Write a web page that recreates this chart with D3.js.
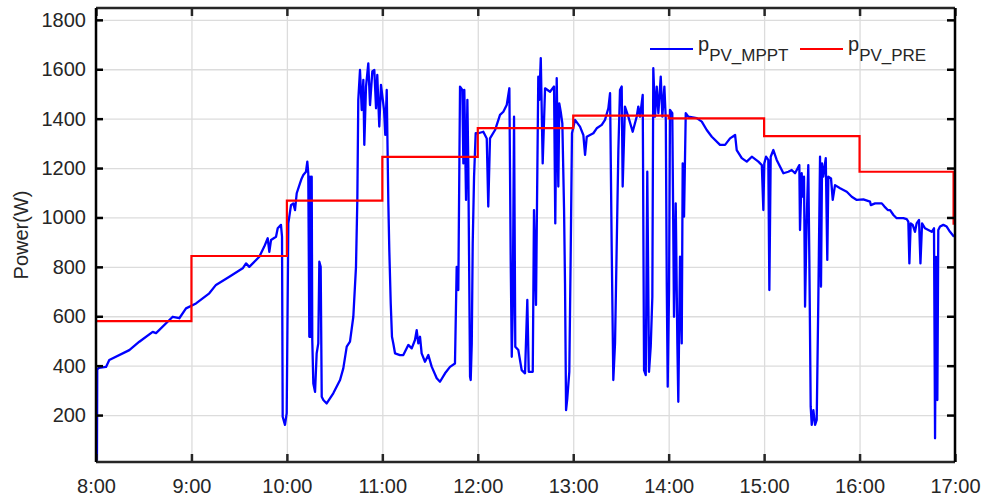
<!DOCTYPE html>
<html>
<head>
<meta charset="utf-8">
<script src="https://cdn.jsdelivr.net/npm/d3@7"></script>
<style>
    body { margin: 0; background: #fff; }
    #chart { width: 985px; height: 502px; }
    text { font-family: "Liberation Sans", Arial, Helvetica, sans-serif; fill: #262626; }
</style>
</head>
<body>
<div id="chart"></div>
<script>
// measured PV power (MPPT), hour of day / W
const mpptHour = [
    8.010, 8.013, 8.031, 8.105, 8.139, 8.349, 8.454, 8.594, 8.629, 8.804, 8.873, 8.943,
    9.048, 9.187, 9.257, 9.397, 9.537, 9.572, 9.606, 9.711, 9.763, 9.799, 9.816, 9.834,
    9.886, 9.904, 9.938, 9.949, 9.956, 9.980, 9.998, 10.015, 10.043, 10.067, 10.085, 10.103,
    10.137, 10.155, 10.172, 10.200, 10.214, 10.224, 10.235, 10.242, 10.249, 10.260, 10.266, 10.277,
    10.295, 10.312, 10.329, 10.340, 10.354, 10.365, 10.382, 10.417, 10.486, 10.557, 10.591, 10.627,
    10.661, 10.696, 10.724, 10.738, 10.748, 10.766, 10.784, 10.801, 10.811, 10.829, 10.853, 10.871,
    10.895, 10.916, 10.934, 10.947, 10.968, 10.986, 11.018, 11.031, 11.046, 11.063, 11.073, 11.088,
    11.101, 11.115, 11.133, 11.185, 11.220, 11.272, 11.308, 11.342, 11.360, 11.377, 11.395, 11.412,
    11.447, 11.482, 11.517, 11.570, 11.604, 11.657, 11.709, 11.761, 11.779, 11.796, 11.814, 11.838,
    11.849, 11.859, 11.877, 11.891, 11.901, 11.919, 11.926, 11.937, 11.947, 11.961, 11.978, 12.006,
    12.058, 12.094, 12.110, 12.128, 12.181, 12.233, 12.268, 12.303, 12.331, 12.345, 12.356, 12.366,
    12.380, 12.393, 12.425, 12.460, 12.495, 12.519, 12.534, 12.576, 12.589, 12.610, 12.634, 12.644,
    12.660, 12.680, 12.705, 12.757, 12.799, 12.812, 12.827, 12.844, 12.854, 12.869, 12.886, 12.904,
    12.914, 12.925, 12.938, 12.959, 12.974, 12.987, 13.019, 13.071, 13.106, 13.124, 13.142, 13.176,
    13.211, 13.246, 13.299, 13.333, 13.368, 13.386, 13.403, 13.420, 13.438, 13.473, 13.490, 13.508,
    13.518, 13.542, 13.577, 13.623, 13.665, 13.682, 13.700, 13.728, 13.742, 13.760, 13.776, 13.794,
    13.812, 13.829, 13.839, 13.857, 13.875, 13.892, 13.917, 13.934, 13.955, 13.970, 13.980, 13.990,
    14.004, 14.014, 14.038, 14.056, 14.074, 14.091, 14.101, 14.119, 14.137, 14.147, 14.161, 14.179,
    14.206, 14.294, 14.347, 14.399, 14.452, 14.538, 14.591, 14.643, 14.696, 14.713, 14.766, 14.818,
    14.871, 14.940, 14.976, 14.992, 15.002, 15.020, 15.044, 15.055, 15.069, 15.097, 15.132, 15.202,
    15.254, 15.289, 15.324, 15.369, 15.376, 15.394, 15.404, 15.418, 15.429, 15.446, 15.463, 15.474,
    15.488, 15.499, 15.516, 15.534, 15.551, 15.568, 15.586, 15.596, 15.607, 15.620, 15.646, 15.662,
    15.673, 15.701, 15.719, 15.743, 15.796, 15.866, 15.918, 15.971, 16.040, 16.110, 16.118, 16.163,
    16.233, 16.261, 16.296, 16.320, 16.355, 16.389, 16.459, 16.494, 16.511, 16.522, 16.536, 16.557,
    16.581, 16.598, 16.623, 16.638, 16.655, 16.686, 16.721, 16.756, 16.780, 16.791, 16.801, 16.815,
    16.825, 16.843, 16.878, 16.913, 16.948, 16.990
];
const mpptPower = [
    15, 385, 391, 395, 423, 463, 497, 537, 532, 598, 592, 632,
    652, 693, 727, 760, 794, 814, 800, 841, 882, 916, 861, 909,
    922, 956, 970, 922, 193, 160, 208, 976, 1050, 1057, 1030, 1098,
    1138, 1158, 1172, 1185, 1226, 1179, 517, 1165, 517, 1165, 504, 328,
    294, 450, 490, 821, 800, 274, 261, 247, 288, 342, 389, 477,
    497, 598, 800, 1071, 1476, 1597, 1435, 1557, 1294, 1530, 1624, 1455,
    1591, 1597, 1442, 1577, 1368, 1537, 1435, 1334, 1516, 1057, 868, 652,
    517, 490, 450, 443, 443, 484, 470, 504, 544, 490, 517, 450,
    416, 443, 396, 349, 335, 369, 395, 409, 800, 706, 1530, 1516,
    1219, 1516, 1071, 1476, 1206, 355, 342, 490, 895, 1165, 1341, 1341,
    1347, 1320, 1044, 1320, 1354, 1415, 1428, 1455, 1523, 828, 436, 612,
    1408, 477, 463, 382, 369, 666, 375, 375, 1030, 646, 1570, 1476,
    1645, 1219, 1523, 1509, 1530, 976, 1564, 1125, 1462, 1428, 1381, 1030,
    733, 220, 268, 375, 868, 1341, 1395, 1368, 1334, 1253, 1327, 1334,
    1341, 1361, 1375, 1395, 1442, 1503, 882, 342, 490, 1273, 1516, 1530,
    1125, 1449, 1408, 1347, 1408, 1449, 1408, 1496, 382, 362, 1185, 375,
    477, 679, 1604, 1408, 1530, 1422, 1570, 1408, 1530, 1395, 733, 315,
    706, 1435, 1422, 598, 1057, 490, 254, 841, 490, 1219, 1003, 1422,
    1408, 1402, 1388, 1354, 1327, 1294, 1294, 1320, 1334, 1273, 1240, 1226,
    1246, 1226, 1212, 1030, 1219, 1246, 1233, 706, 1246, 1273, 1233, 1179,
    1185, 1192, 1179, 1212, 949, 1179, 1084, 1165, 639, 990, 1212, 828,
    234, 160, 220, 160, 180, 666, 1246, 720, 1219, 1165, 1240, 828,
    1165, 1158, 1071, 1131, 1118, 1104, 1084, 1071, 1073, 1064, 1050, 1057,
    1057, 1044, 1030, 1030, 1010, 997, 997, 993, 983, 814, 976, 970,
    942, 976, 990, 814, 976, 956, 949, 942, 956, 106, 840, 261,
    949, 963, 970, 963, 942, 922
];

// predicted PV power, hourly steps
const preHour = [8, 9, 10, 11, 12, 13, 14, 15, 16, 16.985, 16.985];
const prePower = [580, 844, 1068, 1245, 1362, 1412, 1401, 1329, 1185, 1185, 970];

const hourTicks = [8, 9, 10, 11, 12, 13, 14, 15, 16, 17];
const hourLabels = ["8:00", "9:00", "10:00", "11:00", "12:00", "13:00", "14:00", "15:00", "16:00", "17:00"];
const powerTicks = [200, 400, 600, 800, 1000, 1200, 1400, 1600, 1800];

class PowerChart {
    constructor(parentElement) {
        this.parentElement = parentElement;
        this.initVis();
    }

    initVis() {
        let vis = this;

        vis.margin = { top: 8, right: 30, bottom: 40, left: 96 };
        vis.width = 985 - vis.margin.left - vis.margin.right;
        vis.height = 502 - vis.margin.top - vis.margin.bottom;

        vis.svg = d3.select("#" + vis.parentElement)
            .append("svg")
            .attr("width", 985)
            .attr("height", 502)
            .append("g")
            .attr("transform", `translate(${vis.margin.left},${vis.margin.top})`);

        vis.xScale = d3.scaleLinear().domain([8, 17]).range([0, vis.width]);
        vis.yScale = d3.scaleLinear().domain([10, 1848]).range([vis.height, 0]);

        vis.svg.append("clipPath")
            .attr("id", "plot-clip")
            .append("rect")
            .attr("width", vis.width)
            .attr("height", vis.height);

        vis.updateVis();
    }

    updateVis() {
        let vis = this;

        // grid
        vis.svg.append("g")
            .attr("class", "grid")
            .attr("transform", `translate(0,${vis.height})`)
            .call(d3.axisBottom(vis.xScale).tickValues(hourTicks).tickSize(-vis.height).tickFormat(""))
            .call(g => g.select(".domain").remove())
            .selectAll("line").attr("stroke", "#dcdcdc").attr("stroke-width", 1.3);

        vis.svg.append("g")
            .attr("class", "grid")
            .call(d3.axisLeft(vis.yScale).tickValues(powerTicks).tickSize(-vis.width).tickFormat(""))
            .call(g => g.select(".domain").remove())
            .selectAll("line").attr("stroke", "#dcdcdc").attr("stroke-width", 1.3);

        let mpptData = mpptHour.map((h, i) => ({ hour: h, power: mpptPower[i] }));
        let preData = preHour.map((h, i) => ({ hour: h, power: prePower[i] }));

        let line = d3.line()
            .x(d => vis.xScale(d.hour))
            .y(d => vis.yScale(d.power));

        vis.svg.append("path")
            .datum(mpptData)
            .attr("clip-path", "url(#plot-clip)")
            .attr("fill", "none")
            .attr("stroke", "#0000ff")
            .attr("stroke-width", 2.3)
            .attr("stroke-linejoin", "round")
            .attr("d", line);

        vis.svg.append("path")
            .datum(preData)
            .attr("clip-path", "url(#plot-clip)")
            .attr("fill", "none")
            .attr("stroke", "#ff0000")
            .attr("stroke-width", 2.2)
            .attr("d", line.curve(d3.curveStepAfter));

        // axes, ticks pointing inward
        vis.svg.append("g")
            .attr("class", "x-axis")
            .attr("transform", `translate(0,${vis.height})`)
            .call(d3.axisBottom(vis.xScale).tickValues(hourTicks).tickSize(-8).tickSizeOuter(0).tickPadding(17)
                .tickFormat((d, i) => hourLabels[i]));

        vis.svg.append("g")
            .attr("class", "x-axis-top")
            .call(d3.axisTop(vis.xScale).tickValues(hourTicks).tickSize(-8).tickSizeOuter(0).tickFormat(""));

        vis.svg.append("g")
            .attr("class", "y-axis")
            .call(d3.axisLeft(vis.yScale).tickValues(powerTicks).tickSize(-7).tickSizeOuter(0).tickPadding(10)
                .tickFormat(d3.format("d")));

        vis.svg.append("g")
            .attr("class", "y-axis-right")
            .attr("transform", `translate(${vis.width},0)`)
            .call(d3.axisRight(vis.yScale).tickValues(powerTicks).tickSize(-8).tickSizeOuter(0).tickFormat(""));

        vis.svg.selectAll(".x-axis .domain, .x-axis-top .domain, .y-axis .domain, .y-axis-right .domain").remove();
        vis.svg.selectAll(".x-axis line, .x-axis-top line").attr("stroke", "#262626").attr("stroke-width", 2.5);
        vis.svg.selectAll(".y-axis line, .y-axis-right line").attr("stroke", "#000").attr("stroke-width", 2.5);
        vis.svg.selectAll(".x-axis text, .y-axis text")
            .style("font-size", "20px")
            .attr("fill", "#262626");

        // box
        vis.svg.append("line").attr("x1", 0).attr("x2", vis.width).attr("y1", 0).attr("y2", 0)
            .attr("stroke", "#262626").attr("stroke-width", 2.5);
        vis.svg.append("line").attr("x1", 0).attr("x2", vis.width).attr("y1", vis.height).attr("y2", vis.height)
            .attr("stroke", "#262626").attr("stroke-width", 2.5);
        vis.svg.append("line").attr("x1", 0).attr("x2", 0).attr("y1", 0).attr("y2", vis.height)
            .attr("stroke", "#000").attr("stroke-width", 2.5);
        vis.svg.append("line").attr("x1", vis.width).attr("x2", vis.width).attr("y1", 0).attr("y2", vis.height)
            .attr("stroke", "#000").attr("stroke-width", 2.5);

        // y label
        vis.svg.append("text")
            .attr("transform", `translate(${28 - vis.margin.left},${vis.height / 2}) rotate(-90)`)
            .attr("text-anchor", "middle")
            .style("font-size", "20px")
            .text("Power(W)");

        // legend
        let legend = vis.svg.append("g")
            .attr("transform", `translate(${-vis.margin.left},${-vis.margin.top})`);

        let items = [
            { x: 650, color: "#0000ff", sub: "PV_MPPT" },
            { x: 800, color: "#ff0000", sub: "PV_PRE" }
        ];

        items.forEach(item => {
            legend.append("line")
                .attr("x1", item.x).attr("x2", item.x + 43)
                .attr("y1", 49).attr("y2", 49)
                .attr("stroke", item.color)
                .attr("stroke-width", 2.2);

            let t = legend.append("text")
                .attr("x", item.x + 48)
                .attr("y", 51)
                .style("font-size", "20px");
            t.append("tspan").text("p");
            t.append("tspan")
                .attr("dy", 10)
                .style("font-size", "17px")
                .text(item.sub);
        });
    }
}

new PowerChart("chart");
</script>
</body>
</html>
